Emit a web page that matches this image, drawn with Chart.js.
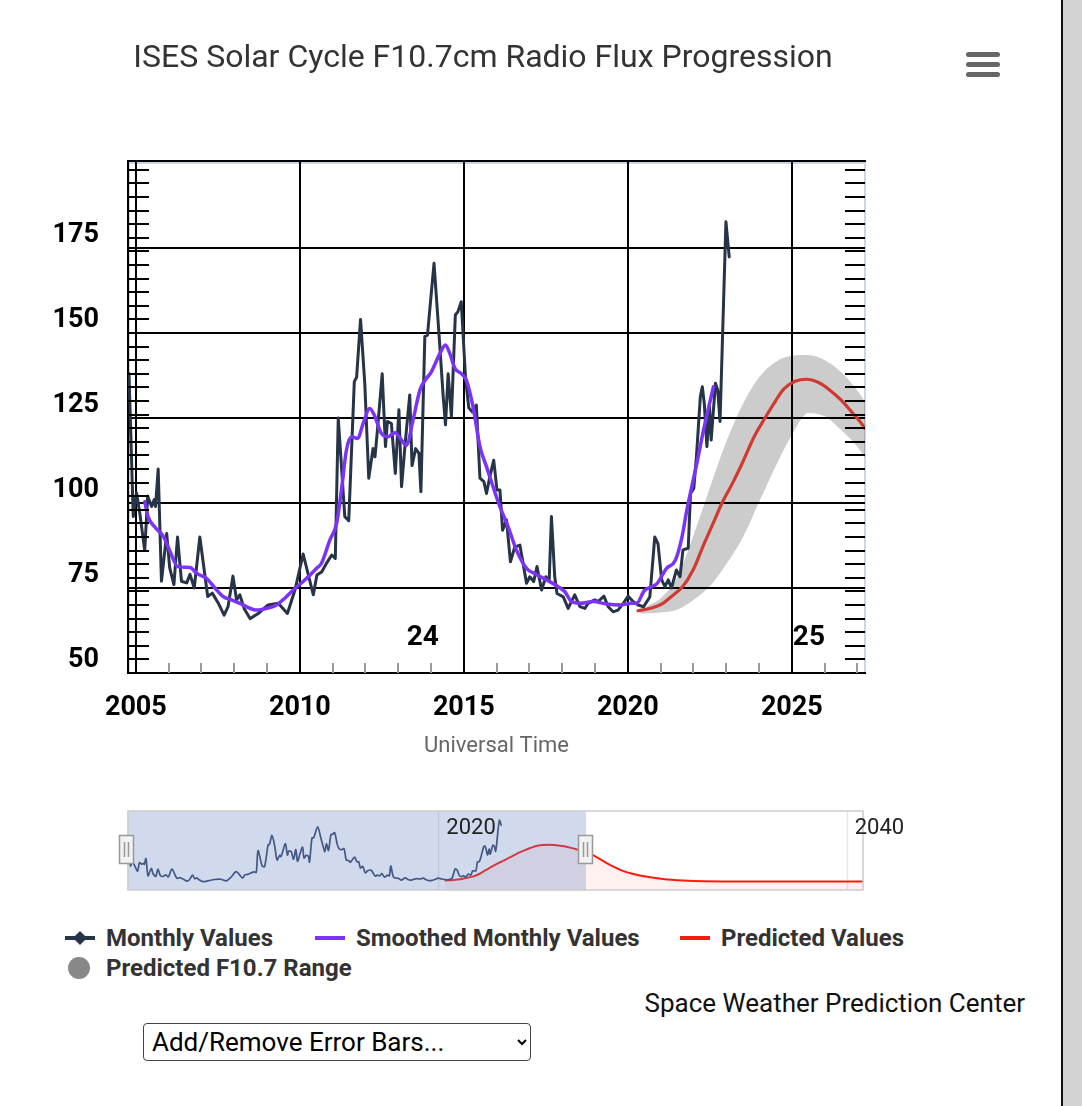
<!DOCTYPE html>
<html>
<head>
<meta charset="utf-8">
<title>ISES Solar Cycle F10.7cm Radio Flux Progression</title>
<script src="https://cdn.jsdelivr.net/npm/chart.js@4.4.1/dist/chart.umd.min.js"></script>
<style>
  body { margin: 0; background: #fff; font-family: Roboto, sans-serif; width: 1082px; height: 1106px; overflow: hidden; position: relative; }
  #title { position: absolute; left: 0; top: 36px; width: 966px; text-align: center; font-size: 32px; line-height: 40px; color: #333; z-index: 2; }
  .menu { position: absolute; left: 966px; width: 34px; height: 5px; border-radius: 3px; background: #666; }
  #sidebar { position: absolute; left: 1061px; top: 0; width: 19px; height: 1106px; background: #d3d3d3; border-left: 2px solid #111; }
  canvas { position: absolute; left: 0; }
  .legend-item { position: absolute; height: 32px; display: flex; align-items: center; font-size: 24px; font-weight: bold; color: #333; white-space: nowrap; }
  .legend-symbol { position: relative; width: 30px; height: 32px; margin-right: 11px; flex: none; }
  #credits { position: absolute; right: 57px; top: 986px; font-size: 26px; line-height: 34px; color: #111; }
  #errbars { position: absolute; left: 143px; top: 1023px; width: 388px; height: 38px; box-sizing: border-box; font-family: Roboto, sans-serif; font-size: 26px; color: #000; background: #fff; border: 1.5px solid #444; border-radius: 4px; padding-left: 4px; }
</style>
</head>
<body>
<div id="title">ISES Solar Cycle F10.7cm Radio Flux Progression</div>
<div class="menu" style="top:52px"></div>
<div class="menu" style="top:62px"></div>
<div class="menu" style="top:72px"></div>
<div id="sidebar"></div>

<canvas id="mainChart" width="1060" height="780" style="top:0"></canvas>
<canvas id="navChart" width="1060" height="100" style="top:800px"></canvas>

<div id="legend"></div>
<div id="credits">Space Weather Prediction Center</div>
<select id="errbars">
  <option>Add/Remove Error Bars...</option>
</select>

<script>
// observed monthly F10.7 (decimal year / sfu)
const monthlyYears = [
  2004.79, 2004.92, 2005.02, 2005.12, 2005.27, 2005.36, 2005.48, 2005.56, 2005.60, 2005.68,
  2005.78, 2005.94, 2006.03, 2006.16, 2006.27, 2006.39, 2006.55, 2006.65, 2006.78, 2006.95,
  2007.19, 2007.33, 2007.51, 2007.69, 2007.81, 2007.96, 2008.07, 2008.17, 2008.30, 2008.48,
  2008.73, 2009.03, 2009.34, 2009.62, 2009.85, 2010.10, 2010.41, 2010.52, 2010.67, 2010.82,
  2010.97, 2011.08, 2011.17, 2011.37, 2011.49, 2011.66, 2011.73, 2011.85, 2011.98, 2012.10,
  2012.23, 2012.29, 2012.37, 2012.51, 2012.61, 2012.67, 2012.79, 2012.91, 2013.02, 2013.10,
  2013.22, 2013.35, 2013.42, 2013.53, 2013.63, 2013.69, 2013.81, 2013.89, 2014.09, 2014.24,
  2014.37, 2014.44, 2014.52, 2014.62, 2014.74, 2014.82, 2014.92, 2015.05, 2015.15, 2015.26,
  2015.38, 2015.49, 2015.61, 2015.69, 2015.79, 2015.91, 2016.01, 2016.10, 2016.18, 2016.30,
  2016.42, 2016.55, 2016.71, 2016.91, 2017.01, 2017.13, 2017.23, 2017.37, 2017.50, 2017.60,
  2017.67, 2017.77, 2017.84, 2018.03, 2018.18, 2018.38, 2018.54, 2018.69, 2018.79, 2018.99,
  2019.09, 2019.27, 2019.40, 2019.55, 2019.70, 2019.86, 2020.01, 2020.16, 2020.31, 2020.48,
  2020.67, 2020.82, 2020.92, 2021.03, 2021.13, 2021.23, 2021.33, 2021.48, 2021.59, 2021.68,
  2021.84, 2021.91, 2022.01, 2022.09, 2022.21, 2022.27, 2022.33, 2022.41, 2022.49, 2022.54,
  2022.67, 2022.74, 2022.81, 2022.99, 2023.09
];
const monthlyValues = [
  138, 96, 103, 97, 86, 102, 99, 101, 99, 110,
  77, 91, 81, 76, 90, 77, 76.5, 79, 75, 90,
  72.5, 73.5, 70.6, 67, 69.5, 78.5, 71.5, 73, 69, 66,
  67.5, 70, 70.5, 67.5, 74.4, 85, 73, 78.8, 79.8, 82.4,
  84.7, 83.7, 125, 96, 94.8, 135.7, 137, 154, 135, 107.3,
  116, 113.6, 122, 138, 116.6, 124, 123.4, 108.7, 127.4, 104.8,
  118.5, 131.8, 111, 116, 114.6, 103.3, 149, 149.4, 170.5, 150,
  131.3, 123, 138, 125.4, 155.3, 156.3, 159.2, 137, 128, 126.8,
  128.8, 107.3, 106.3, 102.8, 107.7, 112.6, 103.8, 103.8, 92, 95,
  82.7, 87, 87.6, 76.4, 78.3, 76.9, 81.3, 74.4, 78.3, 77,
  96, 78.3, 73.4, 72.4, 69, 73, 69.5, 69, 70.5, 71.5,
  71, 72.6, 69.5, 68, 68.5, 70.5, 72.6, 71, 70, 69.5,
  72.4, 90, 88, 77.4, 75.4, 77.4, 75, 80.3, 78.3, 86.2,
  86.7, 102.8, 104.3, 113.6, 131.3, 134.2, 129.3, 116.6, 128.3, 118.5,
  135.2, 133.2, 124, 182.7, 172.4
];

// 13-month smoothed values
const smoothedYears = [
  2005.27, 2005.37, 2005.57, 2005.85, 2006.03, 2006.28, 2006.65, 2006.86, 2007.16, 2007.41,
  2007.66, 2007.92, 2008.17, 2008.37, 2008.68, 2008.98, 2009.29, 2009.54, 2009.80, 2010.20,
  2010.51, 2010.66, 2010.91, 2011.12, 2011.27, 2011.42, 2011.58, 2011.76, 2011.93, 2012.13,
  2012.29, 2012.47, 2012.69, 2012.90, 2013.10, 2013.25, 2013.45, 2013.66, 2013.81, 2014.01,
  2014.27, 2014.44, 2014.57, 2014.73, 2014.93, 2015.08, 2015.28, 2015.49, 2015.69, 2015.89,
  2016.10, 2016.35, 2016.60, 2016.91, 2017.21, 2017.52, 2017.87, 2018.08, 2018.28, 2018.54,
  2018.94, 2019.35, 2019.76, 2020.12, 2020.27, 2020.50, 2020.88, 2021.18, 2021.44, 2021.64,
  2021.80, 2021.92, 2022.12, 2022.32, 2022.61
];
const smoothedValues = [
  100.4, 96, 93, 90, 86, 81.3, 81, 79.3, 77.8, 75,
  72.5, 71.5, 70.5, 69.5, 68.5, 69, 70, 72, 74.4, 77.8,
  80.8, 82.3, 89, 94, 104, 115.6, 119.5, 119, 123.4, 127.8,
  125.4, 120.7, 119.5, 120.7, 118.5, 117, 124.4, 133.2, 136, 138.6,
  144, 146.5, 144, 139.6, 138, 136, 128.3, 116.6, 110.7, 104.8,
  98.9, 93, 86.2, 80.8, 79, 77.4, 75.4, 73.9, 71, 70.5,
  71, 70.3, 70, 70.5, 70.5, 74.2, 76.2, 80.8, 83, 89.5,
  98, 103.5, 112.5, 122, 134.2
];

// predicted cycle 25 values
const predictedYears = [
  2020.31, 2020.75, 2021.07, 2021.30, 2021.68, 2022.00, 2022.30, 2022.60, 2022.87, 2023.20,
  2023.50, 2023.85, 2024.18, 2024.50, 2024.75, 2025.10, 2025.45, 2025.80, 2026.16, 2026.50,
  2026.77, 2027.23, 2027.60, 2028.00, 2028.50, 2029.00, 2029.50, 2030.00, 2031.00, 2032.00,
  2033.00, 2035.00, 2040.80
];
const predictedValues = [
  68.3, 69.2, 70.5, 72.3, 75.5, 80.5, 87.5, 94, 100, 106,
  112, 119.5, 125, 130, 133.5, 135.8, 136.4, 135.5, 133.2, 130.3,
  127.4, 122, 116, 107, 96, 87, 81, 76.5, 71, 68,
  66.5, 66, 66
];

// predicted F10.7 range (band)
const rangeYears = [2020.35, 2020.5, 2021, 2021.5, 2022, 2022.5, 2023, 2023.5, 2024, 2024.5, 2025, 2025.5, 2026, 2026.5, 2027, 2027.5];
const rangeHigh  = [67.5, 69, 72, 78, 90.5, 104.5, 118, 129, 137, 141.5, 143.3, 143.5, 142, 138.5, 133, 126];
const rangeLow   = [67.5, 67.5, 67.8, 68.6, 71.5, 75.5, 82, 89.8, 100.3, 110.7, 120, 126.5, 125.5, 121.5, 116.5, 109];

const xTicks = [2005, 2010, 2015, 2020, 2025];
const yTicks = [50, 75, 100, 125, 150, 175];
const navTicks = [2020, 2040];
const cycleNames = ['24', '25'];
const cycleYears = [2013.75, 2025.52];
const cycleValues = [60.3, 60.3];

const X_MIN = 2004.76, X_MAX = 2027.23;
const NAV_MIN = 2004.8, NAV_MAX = 2040.8;
const Y_MIN = 50, Y_MAX = 200.6;

Chart.defaults.font.family = 'Roboto, sans-serif';

function pairs(xs, ys) {
  return xs.map((x, i) => ({ x: x, y: ys[i] }));
}

// plot frame, minor ticks and cycle numbers
const plotDecor = {
  id: 'plotDecor',
  beforeDraw(chart) {
    const { ctx, chartArea: a } = chart;
    ctx.save();
    ctx.strokeStyle = '#ccd6eb';
    ctx.lineWidth = 2;
    ctx.strokeRect(a.left + 1, a.top + 2, a.right - a.left - 1, a.bottom - a.top - 2);
    ctx.strokeStyle = '#000';
    ctx.beginPath();
    ctx.moveTo(a.left, a.top); ctx.lineTo(a.right + 1, a.top);
    ctx.stroke();
    ctx.restore();
  },
  afterDraw(chart) {
    const { ctx, chartArea: a, scales: { x, y } } = chart;
    ctx.save();
    ctx.strokeStyle = '#000';
    ctx.lineWidth = 2;
    ctx.beginPath();
    for (let v = Y_MIN; v < 200; v += 4) {
      const py = Math.round(y.getPixelForValue(v));
      ctx.moveTo(a.left, py); ctx.lineTo(a.left + 21, py);
      ctx.moveTo(a.right - 20, py); ctx.lineTo(a.right, py);
    }
    ctx.stroke();

    ctx.strokeStyle = '#999';
    ctx.beginPath();
    for (let yr = Math.ceil(X_MIN); yr <= X_MAX; yr++) {
      if (yr % 5 === 0) continue;
      const px = Math.round(x.getPixelForValue(yr));
      ctx.moveTo(px, a.bottom - 10); ctx.lineTo(px, a.bottom);
    }
    ctx.stroke();

    ctx.fillStyle = '#000';
    ctx.font = 'bold 28px Roboto, sans-serif';
    ctx.textAlign = 'center';
    ctx.textBaseline = 'middle';
    cycleNames.forEach((name, i) => {
      ctx.fillText(name, x.getPixelForValue(cycleYears[i]), y.getPixelForValue(cycleValues[i]));
    });
    ctx.restore();
  }
};

const mainChart = new Chart(document.getElementById('mainChart'), {
  type: 'line',
  data: {
    datasets: [
      { label: 'Monthly Values', data: pairs(monthlyYears, monthlyValues), borderColor: '#263447', borderWidth: 3, order: 2 },
      { label: 'Smoothed Monthly Values', data: pairs(smoothedYears, smoothedValues), borderColor: '#7b33f7', borderWidth: 3.5,
        cubicInterpolationMode: 'monotone', order: 1 },
      { label: 'Predicted Values', data: pairs(predictedYears, predictedValues), borderColor: '#cf3a31', borderWidth: 3.2,
        cubicInterpolationMode: 'monotone', order: 3 },
      { label: 'Predicted F10.7 Range', data: pairs(rangeYears, rangeHigh), borderWidth: 0, borderColor: 'rgba(0,0,0,0)',
        backgroundColor: 'rgba(0,0,0,0.2)', fill: '+1', cubicInterpolationMode: 'monotone', order: 4 },
      { label: 'Range low', data: pairs(rangeYears, rangeLow), borderWidth: 0, borderColor: 'rgba(0,0,0,0)', fill: false,
        cubicInterpolationMode: 'monotone', order: 5 }
    ]
  },
  options: {
    responsive: false,
    animation: false,
    devicePixelRatio: 1,
    layout: { autoPadding: false, padding: { left: 0, top: 161, right: 195, bottom: 0 } },
    elements: {
      point: { radius: 0, hoverRadius: 0 },
      line: { tension: 0, borderJoinStyle: 'round', borderCapStyle: 'round' }
    },
    plugins: { legend: { display: false }, tooltip: { enabled: false } },
    scales: {
      x: {
        type: 'linear', min: X_MIN, max: X_MAX,
        afterBuildTicks: s => { s.ticks = xTicks.map(v => ({ value: v })); },
        afterFit: s => { s.height = 107; },
        grid: { color: '#000', lineWidth: 2, drawTicks: false },
        border: { color: '#000', width: 2 },
        ticks: { color: '#000', font: { size: 27, weight: 'bold' }, padding: 19, maxRotation: 0, autoSkip: false, callback: v => String(v) },
        title: { display: true, text: 'Universal Time', color: '#666', font: { size: 22 }, padding: { top: 0, bottom: 20 } }
      },
      y: {
        min: Y_MIN, max: Y_MAX,
        afterBuildTicks: s => { s.ticks = yTicks.map(v => ({ value: v })); },
        afterFit: s => { s.width = 128; },
        grid: { color: '#000', lineWidth: 2, drawTicks: false },
        border: { color: '#000', width: 2 },
        ticks: { color: '#000', font: { size: 27, weight: 'bold' }, padding: 29, labelOffset: -13, callback: v => String(v) }
      }
    }
  },
  plugins: [plotDecor]
});

// navigator: gridlines, selection mask, handles
const navDecor = {
  id: 'navDecor',
  beforeDatasetsDraw(chart) {
    const { ctx, chartArea: a, scales: { x } } = chart;
    ctx.save();
    ctx.strokeStyle = '#e6e6e6';
    ctx.lineWidth = 1.5;
    ctx.beginPath();
    navTicks.forEach(t => {
      const px = Math.round(x.getPixelForValue(t)) + 0.5;
      ctx.moveTo(px, a.top); ctx.lineTo(px, a.bottom);
    });
    ctx.stroke();
    ctx.restore();
  },
  afterDatasetsDraw(chart) {
    const { ctx, chartArea: a, scales: { x } } = chart;
    const x0 = x.getPixelForValue(X_MIN), x1 = x.getPixelForValue(X_MAX);
    ctx.save();
    ctx.fillStyle = 'rgba(102,133,194,0.3)';
    ctx.fillRect(x0, a.top, x1 - x0, a.bottom - a.top);

    ctx.strokeStyle = '#cccccc';
    ctx.lineWidth = 1.5;
    ctx.strokeRect(a.left, a.top, a.right - a.left, a.bottom - a.top);

    ctx.fillStyle = '#222';
    ctx.font = '22px Roboto, sans-serif';
    ctx.textAlign = 'left';
    ctx.textBaseline = 'middle';
    navTicks.forEach(t => ctx.fillText(String(t), x.getPixelForValue(t) + 8, a.top + 17));

    [x0, x1].forEach(px => {
      px = Math.round(px);
      ctx.fillStyle = '#f2f2f2';
      ctx.strokeStyle = '#999';
      ctx.lineWidth = 1.5;
      ctx.beginPath();
      ctx.rect(px - 7.5, 35.5, 14, 28);
      ctx.fill();
      ctx.stroke();
      ctx.beginPath();
      ctx.moveTo(px - 2.5, 42); ctx.lineTo(px - 2.5, 57);
      ctx.moveTo(px + 1.5, 42); ctx.lineTo(px + 1.5, 57);
      ctx.stroke();
    });
    ctx.restore();
  }
};

const navChart = new Chart(document.getElementById('navChart'), {
  type: 'line',
  data: {
    datasets: [
      { data: pairs(monthlyYears, monthlyValues), borderColor: '#34456a', borderWidth: 1.7, fill: false },
      { data: pairs(predictedYears, predictedValues), borderColor: '#ff1a0d', borderWidth: 2, fill: 'start',
        backgroundColor: 'rgba(255,60,40,0.07)', cubicInterpolationMode: 'monotone' }
    ]
  },
  options: {
    responsive: false,
    animation: false,
    devicePixelRatio: 1,
    layout: { autoPadding: false, padding: { left: 128, right: 197, top: 11, bottom: 10 } },
    elements: { point: { radius: 0, hoverRadius: 0 }, line: { tension: 0.3 } },
    plugins: { legend: { display: false }, tooltip: { enabled: false } },
    scales: {
      x: { type: 'linear', display: false, min: NAV_MIN, max: NAV_MAX },
      y: { display: false, min: Y_MIN, max: Y_MAX }
    }
  },
  plugins: [navDecor]
});

// html legend built from the chart's datasets
const legendPlaces = [[65, 922], [315, 922], [680, 922], [65, 952]];
const legendSymbols = ['diamond', 'line', 'line', 'circle'];
const legendColors = ['#263447', '#7b33f7', '#f01d14', '#888888'];
const legendEl = document.getElementById('legend');
mainChart.data.datasets.slice(0, 4).forEach((ds, i) => {
  const item = document.createElement('div');
  item.className = 'legend-item';
  item.style.left = legendPlaces[i][0] + 'px';
  item.style.top = legendPlaces[i][1] + 'px';
  const sym = document.createElement('span');
  sym.className = 'legend-symbol';
  const c = legendColors[i];
  if (legendSymbols[i] === 'circle') {
    sym.innerHTML = `<span style="position:absolute;left:3px;top:5px;width:22px;height:22px;border-radius:50%;background:${c}"></span>`;
  } else {
    sym.innerHTML = `<span style="position:absolute;left:0;top:14px;width:30px;height:4px;background:${c}"></span>`;
    if (legendSymbols[i] === 'diamond') {
      sym.innerHTML += `<span style="position:absolute;left:10px;top:11px;width:10px;height:10px;background:${c};transform:rotate(45deg)"></span>`;
    }
  }
  item.appendChild(sym);
  item.appendChild(document.createTextNode(ds.label));
  legendEl.appendChild(item);
});
</script>
</body>
</html>
